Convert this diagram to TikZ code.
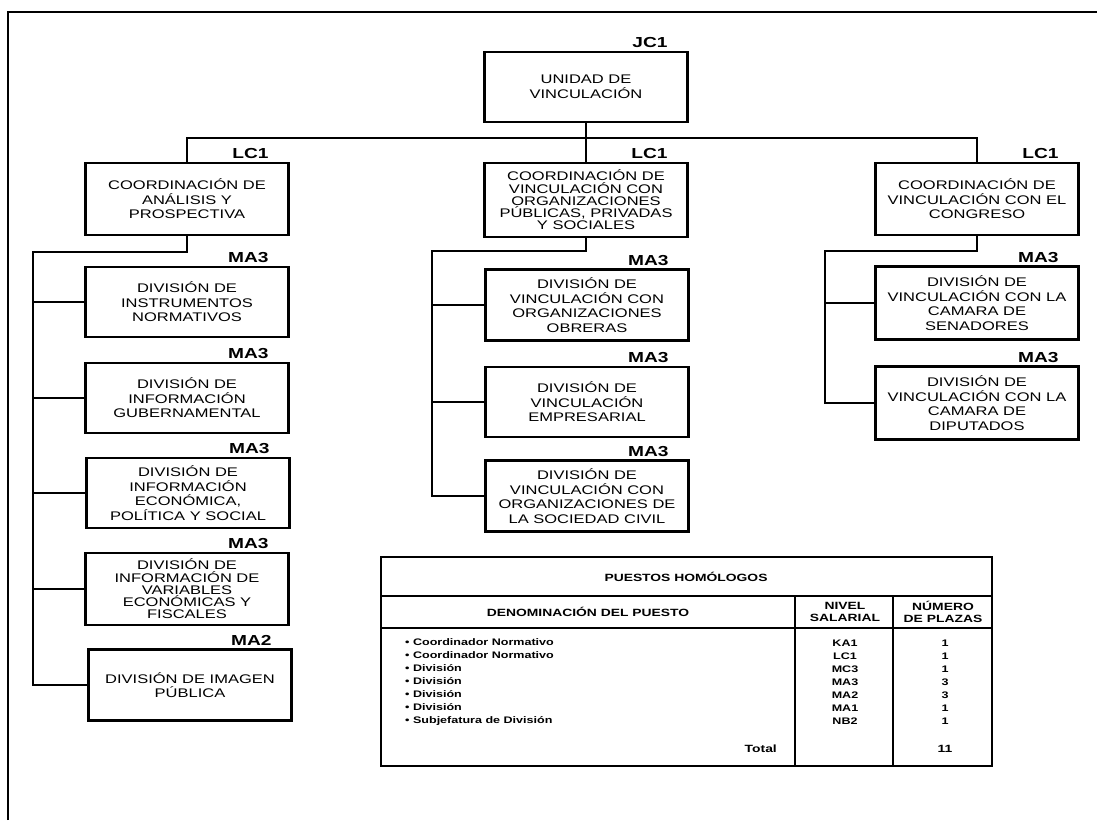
\documentclass[tikz,border=0pt]{standalone}
\usepackage{fontspec}
\setmainfont[FakeStretch=1.32]{Liberation Sans}

\tikzset{
  unitbox/.style={draw, line width=2.5pt, align=center, inner sep=1pt,
    minimum width=203pt, minimum height=#1, font=\fontsize{12.5}{14.5}\selectfont},
  unitbox/.default=70pt,
  tightbox/.style={unitbox=#1, font=\fontsize{12.5}{12.2}\selectfont},
  tightbox/.default=72pt,
  level/.style={anchor=base east, inner sep=0pt, font=\bfseries\fontsize{14.5}{15}\selectfont},
  conn/.style={line width=2.5pt},
  tabline/.style={line width=2.1pt},
  tabhead/.style={align=center, inner sep=0pt, font=\bfseries\fontsize{10.5}{12.5}\selectfont},
  tabrow/.style={align=left, inner sep=0pt, font=\bfseries\fontsize{9.5}{13}\selectfont}
}

\begin{document}
\begin{tikzpicture}[x=1pt,y=-1pt]
  \useasboundingbox (0,0) rectangle (1097,820);
  % Frame
  \draw [line width=1.6pt] (8,820) -- (8,12) -- (1097,12);

  % Head of the unit
  \node[unitbox] (uv) at (586,87) {UNIDAD DE\\VINCULACIÓN};

  % Coordinations
  \node[unitbox=72pt] (coA) at (187,199) {COORDINACIÓN DE\\ANÁLISIS Y\\PROSPECTIVA};
  \node[tightbox=74pt] (coB) at (586,200) {COORDINACIÓN DE\\VINCULACIÓN CON\\ORGANIZACIONES\\PÚBLICAS, PRIVADAS\\Y SOCIALES};
  \node[unitbox=72pt] (coC) at (977,199) {COORDINACIÓN DE\\VINCULACIÓN CON EL\\CONGRESO};

  % Divisions, left column
  \node[unitbox] (dA1) at (187,302) {DIVISIÓN DE\\INSTRUMENTOS\\NORMATIVOS};
  \node[unitbox] (dA2) at (187,398) {DIVISIÓN DE\\INFORMACIÓN\\GUBERNAMENTAL};
  \node[unitbox] (dA3) at (188,493) {DIVISIÓN DE\\INFORMACIÓN\\ECONÓMICA,\\POLÍTICA Y SOCIAL};
  \node[tightbox] (dA4) at (187,589) {DIVISIÓN DE\\INFORMACIÓN DE\\VARIABLES\\ECONÓMICAS Y\\FISCALES};
  \node[unitbox=71pt] (dA5) at (190,685) {DIVISIÓN DE IMAGEN\\PÚBLICA};

  % Divisions, middle column
  \node[unitbox=71pt] (dB1) at (587,305) {DIVISIÓN DE\\VINCULACIÓN CON\\ORGANIZACIONES\\OBRERAS};
  \node[unitbox] (dB2) at (587,402) {DIVISIÓN DE\\VINCULACIÓN\\EMPRESARIAL};
  \node[unitbox=71pt] (dB3) at (587,496) {DIVISIÓN DE\\VINCULACIÓN CON\\ORGANIZACIONES DE\\LA SOCIEDAD CIVIL};

  % Divisions, right column
  \node[unitbox=73pt] (dC1) at (977,303) {DIVISIÓN DE\\VINCULACIÓN CON LA\\CAMARA DE\\SENADORES};
  \node[unitbox=73pt] (dC2) at (977,403) {DIVISIÓN DE\\VINCULACIÓN CON LA\\CAMARA DE\\DIPUTADOS};

  % Salary levels
  \foreach \b/\l in {uv/JC1, coA/LC1, coB/LC1, coC/LC1, dA1/MA3, dA2/MA3, dA3/MA3, dA4/MA3, dA5/MA2,
                     dB1/MA3, dB2/MA3, dB3/MA3, dC1/MA3, dC2/MA3}
    \node[level] (lvl\b) at ([xshift=-21pt,yshift=3pt]\b.north east) {\l};

  % Connectors
  \coordinate (bus) at (586,138);
  \draw[conn] (uv.south) -- (coB.north);
  \draw[conn] (coA.north) |- (bus) -| (coC.north);

  \coordinate (subA) at (33,252);
  \draw[conn] (coA.south) |- (subA) |- (dA5.west);
  \foreach \d in {dA1,dA2,dA3,dA4}
    \draw[conn] (subA |- \d.west) -- (\d.west);

  \coordinate (subB) at (432,251);
  \draw[conn] (coB.south) |- (subB) |- (dB3.west);
  \foreach \d in {dB1,dB2}
    \draw[conn] (subB |- \d.west) -- (\d.west);

  \coordinate (subC) at (825,251);
  \draw[conn] (coC.south) |- (subC) |- (dC2.west);
  \draw[conn] (subC |- dC1.west) -- (dC1.west);

  % Table of equivalent posts
  \draw[tabline] (381,557) rectangle (992,766);
  \draw[tabline] (381,596) -- (992,596);
  \draw[tabline] (381,628) -- (992,628);
  \draw[tabline] (795,596) -- (795,766);
  \draw[tabline] (893,596) -- (893,766);
  \node[tabhead] (ttitle) at (686,577) {PUESTOS HOMÓLOGOS};
  \node[tabhead] (tden) at (588,612) {DENOMINACIÓN DEL PUESTO};
  \node[tabhead] (tniv) at (845,612) {NIVEL\\SALARIAL};
  \node[tabhead] (tnum) at (943,612) {NÚMERO\\DE PLAZAS};
  \node[tabrow, anchor=west] (tpuestos) at (405,682) {• Coordinador Normativo\\• Coordinador Normativo\\• División\\• División\\• División\\• División\\• Subjefatura de División};
  \node[tabrow, align=center] (tniveles) at (845,682) {KA1\\LC1\\MC3\\MA3\\MA2\\MA1\\NB2};
  \node[tabrow, align=center] (tplazas) at (945,682) {1\\1\\1\\3\\3\\1\\1};
  \node[tabhead, anchor=base east] (ttotal) at (777,752) {Total};
  \node[tabhead, anchor=base] (tsuma) at (945,752) {11};
\end{tikzpicture}
\end{document}
